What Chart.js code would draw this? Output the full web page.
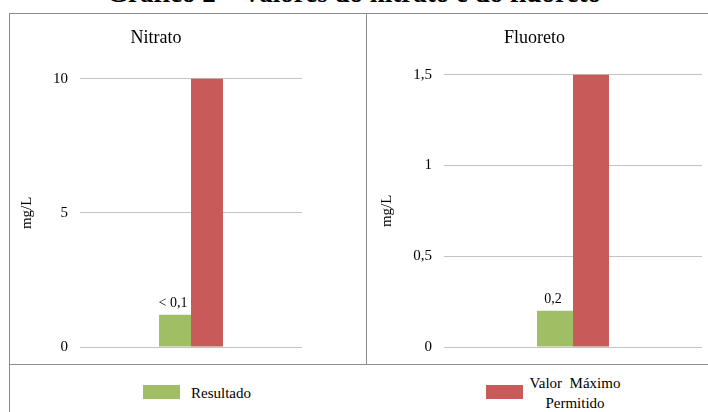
<!DOCTYPE html>
<html lang="pt">
<head>
<meta charset="utf-8">
<title>Gráfico 2 – Valores do nitrato e do fluoreto</title>
<script src="https://cdn.jsdelivr.net/npm/chart.js@4.4.1/dist/chart.umd.min.js"></script>
<style>
  html, body { margin: 0; padding: 0; background: #fff; }
  body { width: 708px; height: 412px; position: relative; overflow: hidden;
         font-family: "Liberation Serif", "Times New Roman", serif; color: #000; }
  .title { position: absolute; left: 0; width: 708px; top: -20px; height: 27px;
           line-height: 27px; font-size: 27px; font-weight: bold; text-align: center; white-space: nowrap; }
  .line { position: absolute; background: #8c8c8c; }
  .panel { position: absolute; }
  .legend-item { position: absolute; font-family: "Liberation Serif", serif; font-size: 15px; line-height: 18px; }
  .swatch { position: absolute; width: 37px; height: 14px; }
</style>
</head>
<body>
<div class="title" id="mainTitle"></div>

<!-- frame -->
<div class="line" style="left:9px; top:13px; width:699px; height:1px;"></div>
<div class="line" style="left:9px; top:13px; width:1px; height:399px;"></div>
<div class="line" style="left:366px; top:13px; width:1px; height:352px;"></div>
<div class="line" style="left:9px; top:364px; width:699px; height:1px;"></div>

<div class="panel" style="left:10px; top:14px; width:356px; height:354px;"><canvas id="chartNitrato"></canvas></div>
<div class="panel" style="left:367px; top:14px; width:341px; height:354px;"><canvas id="chartFluoreto"></canvas></div>

<!-- legend -->
<div class="swatch" id="sw0" style="left:143px; top:385px;"></div>
<div class="legend-item" id="lg0" style="left:191px; top:384px;"></div>
<div class="swatch" id="sw1" style="left:486px; top:385px;"></div>
<div class="legend-item" id="lg1" style="left:520px; top:373px; width:110px; text-align:center; line-height:20px;"></div>

<script>
// Series and categories
const chartTitle = 'Gráfico 2 – Valores do nitrato e do fluoreto';
const seriesNames = ['Resultado', 'Valor Máximo Permitido'];
const seriesColors = ['#A0BE63', '#C85B5A'];

const nitratoTitle = 'Nitrato';
const nitratoValues = [1.2, 10];          // Resultado, Valor Máximo Permitido
const nitratoValueLabels = ['< 0,1', null];
const nitratoTicks = [0, 5, 10];

const fluoretoTitle = 'Fluoreto';
const fluoretoValues = [0.2, 1.5];
const fluoretoValueLabels = ['0,2', null];
const fluoretoTicks = [0, 0.5, 1, 1.5];

const unitLabel = 'mg/L';

const FONT = '"Liberation Serif", "Times New Roman", serif';

document.getElementById('mainTitle').textContent = chartTitle;
document.getElementById('sw0').style.background = seriesColors[0];
document.getElementById('sw1').style.background = seriesColors[1];
document.getElementById('lg0').textContent = seriesNames[0];
document.getElementById('lg1').innerHTML = 'Valor&nbsp; Máximo<br>Permitido';

const fmt = v => String(v).replace('.', ',');

// Writes the value text above each bar that has one
const valueLabelPlugin = {
  id: 'valueLabels',
  afterDatasetsDraw(chart) {
    const ctx = chart.ctx;
    chart.data.datasets.forEach((ds, di) => {
      if (!ds.valueLabels) return;
      const meta = chart.getDatasetMeta(di);
      meta.data.forEach((bar, i) => {
        const txt = ds.valueLabels[i];
        if (!txt) return;
        ctx.save();
        ctx.font = '14px ' + FONT;
        ctx.fillStyle = '#000';
        ctx.textAlign = 'center';
        ctx.textBaseline = 'alphabetic';
        ctx.fillText(txt, bar.x - 2, bar.y - 8);
        ctx.restore();
      });
    });
  }
};

function makePanel(canvasId, title, values, valueLabels, ticks, opts) {
  const max = ticks[ticks.length - 1];
  const step = ticks[1] - ticks[0];
  return new Chart(document.getElementById(canvasId), {
    type: 'bar',
    data: {
      labels: [title],
      datasets: seriesNames.map((name, i) => ({
        label: name,
        data: [values[i]],
        backgroundColor: seriesColors[i],
        borderWidth: 0,
        barPercentage: 1,
        categoryPercentage: opts.catPct,
        valueLabels: [valueLabels[i]]
      }))
    },
    options: {
      responsive: true,
      maintainAspectRatio: false,
      animation: false,
      layout: { padding: { left: 0, right: opts.rightPad, top: 0, bottom: opts.bottomPad } },
      plugins: {
        legend: { display: false },
        tooltip: { enabled: false },
        title: {
          display: true,
          text: title,
          color: '#000',
          font: { family: FONT, size: 18, weight: 'normal' },
          padding: { top: 13, bottom: opts.titleBottom }
        }
      },
      scales: {
        x: { display: false },
        y: {
          min: 0,
          max: max,
          afterFit(scale) { scale.width = opts.axisWidth; },
          afterBuildTicks(scale) { scale.ticks = ticks.map(v => ({ value: v })); },
          ticks: {
            stepSize: step,
            padding: 12,
            color: '#000',
            font: { family: FONT, size: 15 },
            callback: v => fmt(v)
          },
          grid: { color: '#c3c3c3', drawTicks: false, lineWidth: 1 },
          border: { display: false },
          title: {
            display: true,
            text: unitLabel,
            color: '#000',
            font: { family: FONT, size: 15 },
            padding: { top: opts.titlePad, bottom: 0 }
          }
        }
      }
    },
    plugins: [valueLabelPlugin]
  });
}

makePanel('chartNitrato', nitratoTitle, nitratoValues, nitratoValueLabels, nitratoTicks,
  { catPct: 0.288, rightPad: 64, bottomPad: 14, titleBottom: 30, axisWidth: 70, titlePad: 8 });
makePanel('chartFluoreto', fluoretoTitle, fluoretoValues, fluoretoValueLabels, fluoretoTicks,
  { catPct: 0.279, rightPad: 6, bottomPad: 14, titleBottom: 26, axisWidth: 77, titlePad: 11 });
</script>
</body>
</html>
